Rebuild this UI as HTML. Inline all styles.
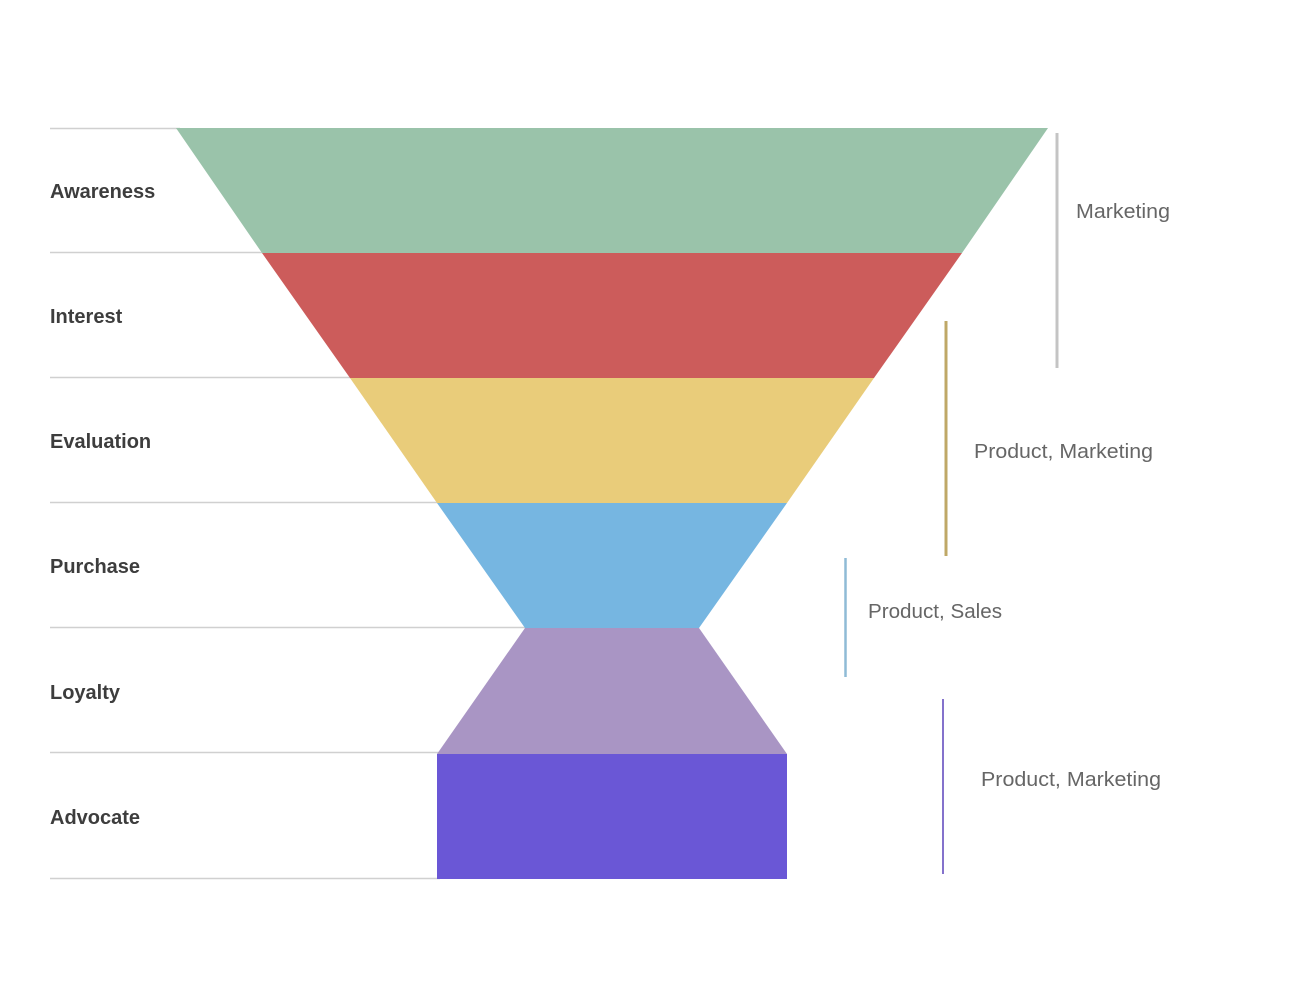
<!DOCTYPE html>
<html><head><meta charset="utf-8"><style>
html,body{margin:0;padding:0;background:#fff;}
svg{display:block;}
.l{font-family:"Liberation Sans",sans-serif;font-weight:bold;font-size:20px;fill:#3d3d3d;}
.r{font-family:"Liberation Sans",sans-serif;font-size:20px;fill:#666;}
</style></head><body>
<svg width="1290" height="992" viewBox="0 0 1290 992" xmlns="http://www.w3.org/2000/svg">
<g stroke="#d0d0d0" stroke-width="1.5">
<line x1="50" y1="128.5" x2="180" y2="128.5"/>
<line x1="50" y1="252.5" x2="265" y2="252.5"/>
<line x1="50" y1="377.5" x2="352" y2="377.5"/>
<line x1="50" y1="502.5" x2="440" y2="502.5"/>
<line x1="50" y1="627.5" x2="527" y2="627.5"/>
<line x1="50" y1="752.5" x2="440" y2="752.5"/>
<line x1="50" y1="878.5" x2="440" y2="878.5"/>
</g>
<polygon points="176,128 1048,128 962,253 262,253" fill="#9ac3aa"/>
<polygon points="262,253 962,253 874,378 350,378" fill="#cc5c5b"/>
<polygon points="350,378 874,378 787,503 437,503" fill="#e9cc7a"/>
<polygon points="437,503 787,503 699,628 525,628" fill="#76b6e1"/>
<polygon points="525,628 699,628 787,754 437,754" fill="#a995c4"/>
<rect x="437" y="754" width="350" height="125" fill="#6a57d6"/>
<text class="l" x="50" y="198">Awareness</text>
<text class="l" x="50" y="323">Interest</text>
<text class="l" x="50" y="448">Evaluation</text>
<text class="l" x="50" y="573">Purchase</text>
<text class="l" x="50" y="699">Loyalty</text>
<text class="l" x="50" y="824">Advocate</text>
<line x1="1057" y1="133" x2="1057" y2="368" stroke="#c4c4c4" stroke-width="3"/>
<line x1="946" y1="321" x2="946" y2="556" stroke="#bfa867" stroke-width="3"/>
<line x1="845.5" y1="558" x2="845.5" y2="677" stroke="#8fbbd6" stroke-width="2.5"/>
<line x1="943" y1="699" x2="943" y2="874" stroke="#8472cc" stroke-width="2"/>
<text class="r" x="1076" y="218" textLength="94" lengthAdjust="spacingAndGlyphs">Marketing</text>
<text class="r" x="974" y="458" textLength="179" lengthAdjust="spacingAndGlyphs">Product, Marketing</text>
<text class="r" x="868" y="618" textLength="134" lengthAdjust="spacingAndGlyphs">Product, Sales</text>
<text class="r" x="981" y="786" textLength="180" lengthAdjust="spacingAndGlyphs">Product, Marketing</text>
</svg>
</body></html>
